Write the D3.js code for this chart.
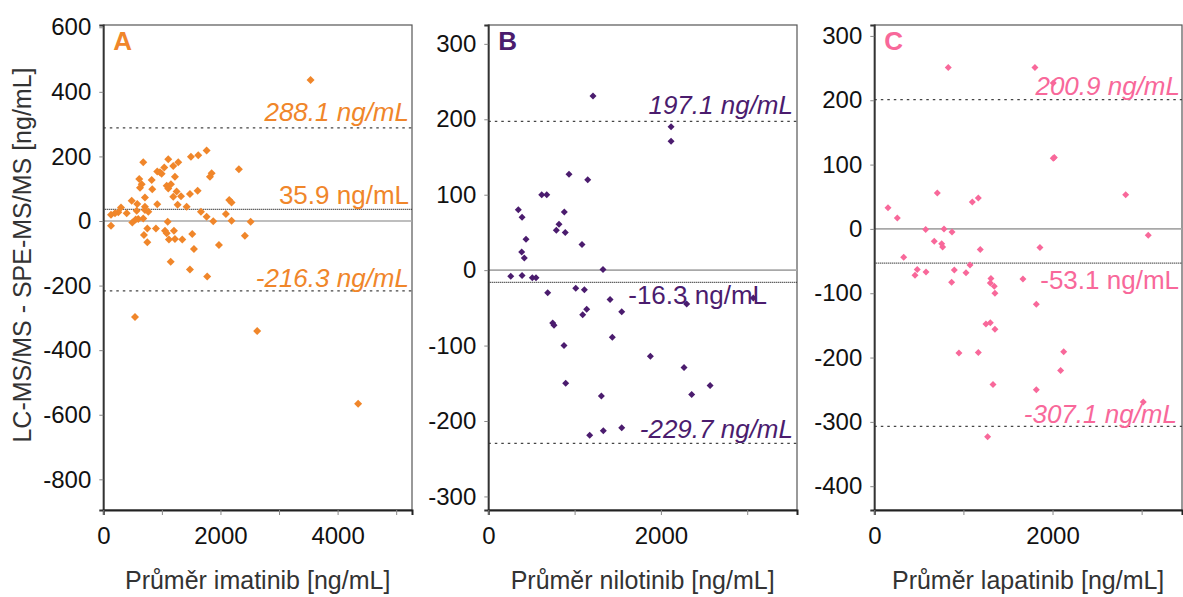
<!DOCTYPE html>
<html><head><meta charset="utf-8">
<script src="https://cdn.jsdelivr.net/npm/d3@7"></script>
<style>body{margin:0;background:#fff}svg{display:block}</style>
</head><body><svg id="chart" width="1183" height="597"></svg>
<script>
// ---- Panel A: imatinib ----
const imatinibMean = [1764,1621,1496,1109,682,1280,1041,1194,921,996,967,2315,1849,1820,1223,614,826,655,626,1082,1155,1109,836,1252,1194,1326,711,1479,1610,485,580,921,1269,1423,2150,2190,302,711,711,570,768,399,256,200,131,1667,1764,2093,1877,2190,2515,1099,682,597,553,495,131,751,899,1053,1206,1082,1518,694,2417,1121,1223,1348,751,1974,1547,1150,1479,1774,541,2627,3538,4350];
const imatinibDiff = [218,204,199,191,182,182,166,170,153,146,151,160,148,137,137,130,127,114,103,109,114,101,98,91,75,77,73,84,94,63,53,52,50,44,65,57,42,44,34,32,29,24,27,24,19,29,13,22,-1,1,-2,-2,8,6,5,-5,-15,-23,-23,-30,-30,-38,-40,-43,-46,-57,-56,-57,-66,-74,-87,-126,-150,-172,-297,-341,437,-566];
const imatinibLines = [288.1, 35.9, -216.3];

// ---- Panel B: nilotinib ----
const nilotinibMean = [1213,2118,2118,935,1152,619,677,348,391,881,819,788,892,437,1086,387,417,1329,260,391,510,553,688,1013,1113,1411,1140,1094,1546,2299,3071,746,761,1437,877,1878,2268,897,2570,2357,1310,1546,1333,1175];
const nilotinibDiff = [231,190,171,127,120,100,100,80,70,77,61,53,50,41,34,24,16,1,-8,-7,-10,-10,-30,-24,-26,-39,-52,-59,-55,-45,-37,-70,-73,-89,-100,-114,-129,-150,-153,-165,-167,-209,-213,-219];
const nilotinibLines = [197.1, -16.3, -229.7];

// ---- Panel C: lapatinib ----
const lapatinibMean = [830,1803,2008,2008,2020,707,1167,2821,154,258,1100,3074,577,782,872,673,756,767,1189,1859,330,482,457,580,898,1074,1029,868,1309,1302,1346,1354,1668,1818,1253,1302,1354,950,1167,2125,2091,1332,1818,3018,1272];
const lapatinibDiff = [251,251,227,110,111,56,48,53,33,17,42,-10,-1,0,-5,-19,-23,-28,-32,-29,-44,-63,-72,-67,-64,-56,-68,-83,-77,-84,-89,-100,-78,-117,-148,-146,-156,-193,-192,-191,-220,-242,-250,-269,-323];
const lapatinibLines = [200.9, -53.1, -307.1];

// ---- ticks & labels ----
const yTicksA = [600,400,200,0,-200,-400,-600,-800];
const yTicksB = [300,200,100,0,-100,-200,-300];
const yTicksC = [300,200,100,0,-100,-200,-300,-400];
const xTicksA = [0,1000,2000,3000,4000,5000];
const xLabelsA = [0,2000,4000];
const xTicksBC = [0,1000,2000,3000];
const xLabelsBC = [0,2000];
const panelLetters = ["A","B","C"];
const xTitles = ["Průměr imatinib [ng/mL]","Průměr nilotinib [ng/mL]","Průměr lapatinib [ng/mL]"];
const yTitle = "LC-MS/MS - SPE-MS/MS [ng/mL]";

const FONT = "'Liberation Sans', Arial, sans-serif";
const svg = d3.select("#chart");
const plotTop = 25, plotBottom = 510;

const panels = [
  {x: imatinibMean, y: imatinibDiff, lines: imatinibLines, color: "#F0862A",
   left: 103.3, right: 412, xDom: [0, 5270], yDom: [-895, 607],
   yTicks: yTicksA, xTicks: xTicksA, xLabels: xLabelsA, marker: 8,
   labelOpts: [{dy: -7, rx: 409, it: true}, {dy: -5, rx: 409, it: false}, {dy: -4, rx: 409, it: true}]},
  {x: nilotinibMean, y: nilotinibDiff, lines: nilotinibLines, color: "#4B1C6E",
   left: 488.3, right: 797, xDom: [0, 3577], yDom: [-318, 325],
   yTicks: yTicksB, xTicks: xTicksBC, xLabels: xLabelsBC, marker: 7,
   labelOpts: [{dy: -7.5, rx: 793, it: true}, {dy: 21.5, rx: 767, it: false}, {dy: -5.5, rx: 793, it: true}]},
  {x: lapatinibMean, y: lapatinibDiff, lines: lapatinibLines, color: "#F8689A",
   left: 874.3, right: 1182, xDom: [0, 3453], yDom: [-437, 317],
   yTicks: yTicksC, xTicks: xTicksBC, xLabels: xLabelsBC, marker: 7,
   labelOpts: [{dy: -4.5, rx: 1180, it: true}, {dy: 26, rx: 1179, it: false}, {dy: -3.5, rx: 1177, it: true}]}
];

panels.forEach((p, i) => {
  const xs = d3.scaleLinear().domain(p.xDom).range([p.left, p.right]);
  const ys = d3.scaleLinear().domain(p.yDom).range([plotBottom, plotTop]);
  const g = svg.append("g");

  g.append("rect").attr("x", p.left).attr("y", plotTop)
    .attr("width", p.right - p.left).attr("height", plotBottom - plotTop)
    .attr("fill", "none").attr("stroke", "#555").attr("stroke-width", 1.2);

  g.append("line").attr("x1", p.left).attr("x2", p.right)
    .attr("y1", ys(0)).attr("y2", ys(0))
    .attr("stroke", "#a8a8a8").attr("stroke-width", 1.6);

  p.lines.forEach((v, k) => {
    g.append("line").attr("x1", p.left).attr("x2", p.right)
      .attr("y1", ys(v)).attr("y2", ys(v))
      .attr("stroke", k === 1 ? "#222" : "#444")
      .attr("stroke-width", k === 1 ? 1.2 : 1.3)
      .attr("stroke-dasharray", k === 1 ? "1,1" : "2.5,4");
  });

  const side = p.marker / Math.SQRT2;
  const sym = d3.symbol().type(d3.symbolSquare).size(side * side);
  g.selectAll("path.pt").data(p.x.map((v, k) => [v, p.y[k]])).enter()
    .append("path").attr("class", "pt")
    .attr("d", sym)
    .attr("transform", d => `translate(${xs(d[0])},${ys(d[1])}) rotate(45)`)
    .attr("fill", p.color);

  p.lines.forEach((v, k) => {
    const o = p.labelOpts[k];
    g.append("text").attr("x", o.rx).attr("y", ys(v) + o.dy)
      .attr("text-anchor", "end")
      .attr("font-family", FONT).attr("font-size", 26)
      .attr("font-style", o.it ? "italic" : "normal")
      .attr("fill", p.color).text(v.toFixed(1) + " ng/mL");
  });

  const ya = d3.axisLeft(ys).tickValues(p.yTicks).tickSize(4).tickPadding(8).tickFormat(d => String(d));
  const yg = g.append("g").attr("transform", `translate(${p.left},0)`).call(ya);
  yg.select(".domain").attr("stroke", "#333").attr("stroke-width", 1.8);
  yg.selectAll(".tick line").attr("stroke", "#888");
  yg.selectAll(".tick text").attr("font-family", FONT).attr("font-size", 24).attr("fill", "#111");

  const xa = d3.axisBottom(xs).tickValues(p.xTicks).tickSize(5).tickPadding(12)
    .tickFormat(d => p.xLabels.includes(d) ? String(d) : "");
  const xg = g.append("g").attr("transform", `translate(0,${plotBottom})`).call(xa);
  xg.select(".domain").attr("stroke", "#222").attr("stroke-width", 2);
  xg.selectAll(".tick line").attr("stroke", "#888");
  xg.selectAll(".tick text").attr("font-family", FONT).attr("font-size", 24).attr("fill", "#111");

  g.append("text").attr("x", p.left + 10).attr("y", 50)
    .attr("font-family", FONT).attr("font-size", 26).attr("font-weight", "bold")
    .attr("fill", p.color).text(panelLetters[i]);

  g.append("text").attr("x", (p.left + p.right) / 2).attr("y", 589)
    .attr("text-anchor", "middle").attr("font-family", FONT).attr("font-size", 25)
    .attr("fill", "#333").text(xTitles[i]);
});

svg.append("text").attr("transform", "translate(31,255) rotate(-90)")
  .attr("text-anchor", "middle").attr("font-family", FONT).attr("font-size", 25)
  .attr("fill", "#333").text(yTitle);
</script>
</body></html>
